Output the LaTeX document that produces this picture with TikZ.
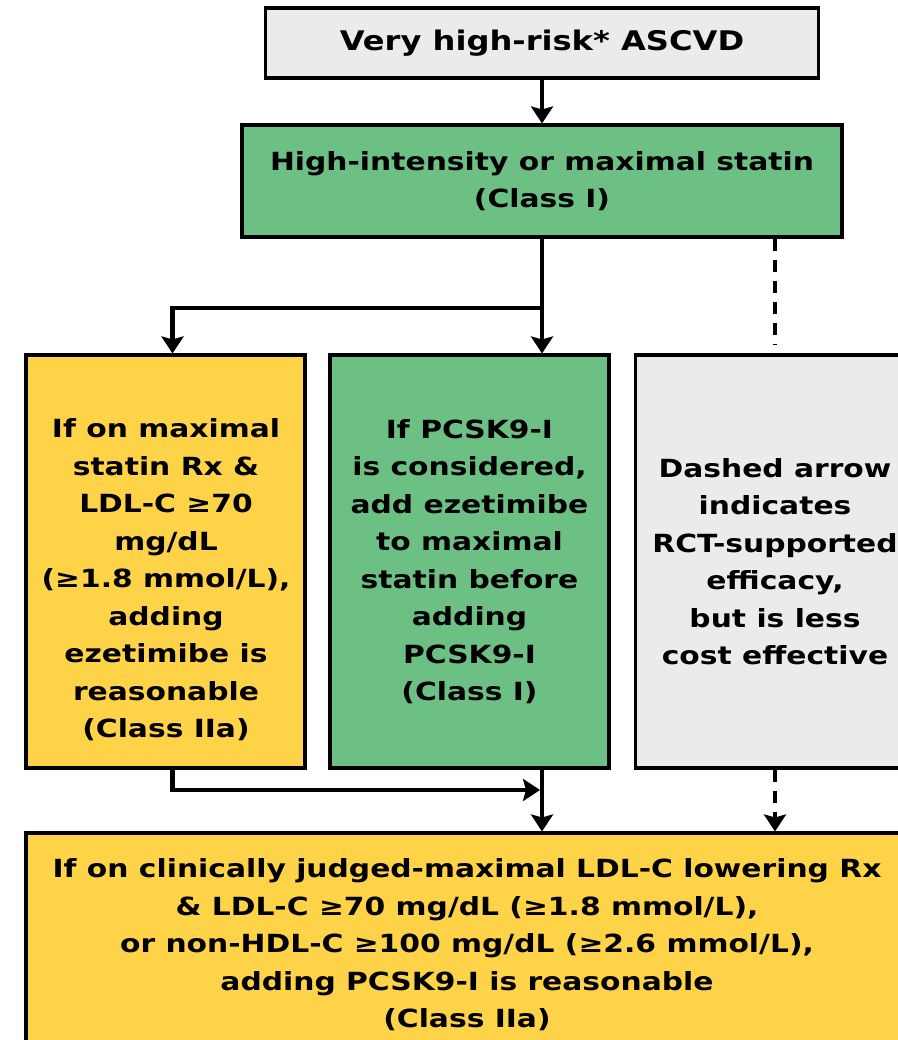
\documentclass[tikz,border=0pt]{standalone}
\usepackage{fontspec}
\setmainfont{DejaVu Sans}[FakeStretch=1.19]
\usetikzlibrary{positioning,arrows.meta}
\newlength\linewidthscale
\setlength\linewidthscale{2.54pt}
\tikzset{
	 very thick/.style = {line width=1.2\linewidthscale},
	ultra thick/.style = {line width=1.6\linewidthscale}
}
\definecolor{riskgray}{RGB}{235,235,235}
\definecolor{statingreen}{RGB}{109,192,131}
\definecolor{addyellow}{RGB}{255,211,71}

\begin{document}
\begin{tikzpicture} [
			x=1pt, y=-1pt,
			every node/.style={font=\fontsize{25}{37.5}\selectfont\bfseries},
			box/.style={rectangle, draw, very thick, inner sep=0pt},
			colbox/.style={box, minimum width=279pt, minimum height=413pt},
			arrow/.style={ultra thick, ->, >={Stealth[length=17pt,width=22pt,inset=3pt]}},
			dashline/.style={ultra thick, dash pattern=on 12pt off 9pt},
			align=center
		]
		\useasboundingbox (0,0) rectangle (897,1040);
		\node at (542,43)  [box, fill=riskgray, minimum width=553pt, minimum height=70pt, font=\fontsize{27}{37.5}\selectfont\bfseries] (risk) {Very high-risk* ASCVD};
		\node at (542,181) [box, fill=statingreen, minimum width=600pt, minimum height=112pt] (statin) {High-intensity or maximal statin\\(Class I)};
		
		\node at (165.5,561.5) [colbox, fill=addyellow] (ezet) {};
		\node at (166,580) (ezettext) {If on maximal\\statin Rx \&\\LDL-C ≥70\\mg/dL\\(≥1.8 mmol/L),\\adding\\ezetimibe is\\reasonable\\(Class IIa)};
		\node at (469.5,561.5) [colbox, fill=statingreen] (pcsk) {If PCSK9-I\\is considered,\\add ezetimibe\\to maximal\\statin before\\adding\\PCSK9-I\\(Class I)};
		\node at (775,561.5) [colbox, fill=riskgray] (note) {Dashed arrow\\indicates\\RCT-supported\\efficacy,\\but is less\\cost effective};
		
		\node at (467,945) [box, fill=addyellow, minimum width=882pt, minimum height=224pt] (final) {If on clinically judged-maximal LDL-C lowering Rx\\\& LDL-C ≥70 mg/dL (≥1.8 mmol/L),\\or non-HDL-C ≥100 mg/dL (≥2.6 mmol/L),\\adding PCSK9-I is reasonable\\(Class IIa)};
		
		\coordinate (split) at (542,308);
		\coordinate (merge) at (540,790);
		
		\draw [arrow] (risk) -- (statin);
		\draw [arrow] (statin.south) -- (statin.south |- pcsk.north);
		\draw [arrow] (split) -| ([xshift=7pt]ezet.north);
		\draw [dashline] (statin.south -| note.north) -- ([yshift=8pt]note.north);
		
		\draw [arrow] ([xshift=7pt]ezet.south) |- (merge);
		\draw [arrow] (statin.south |- pcsk.south) -- (statin.south |- final.north);
		\draw [arrow, dashline] (note.south) -- (note.south |- final.north);
	\end{tikzpicture}
\end{document}
